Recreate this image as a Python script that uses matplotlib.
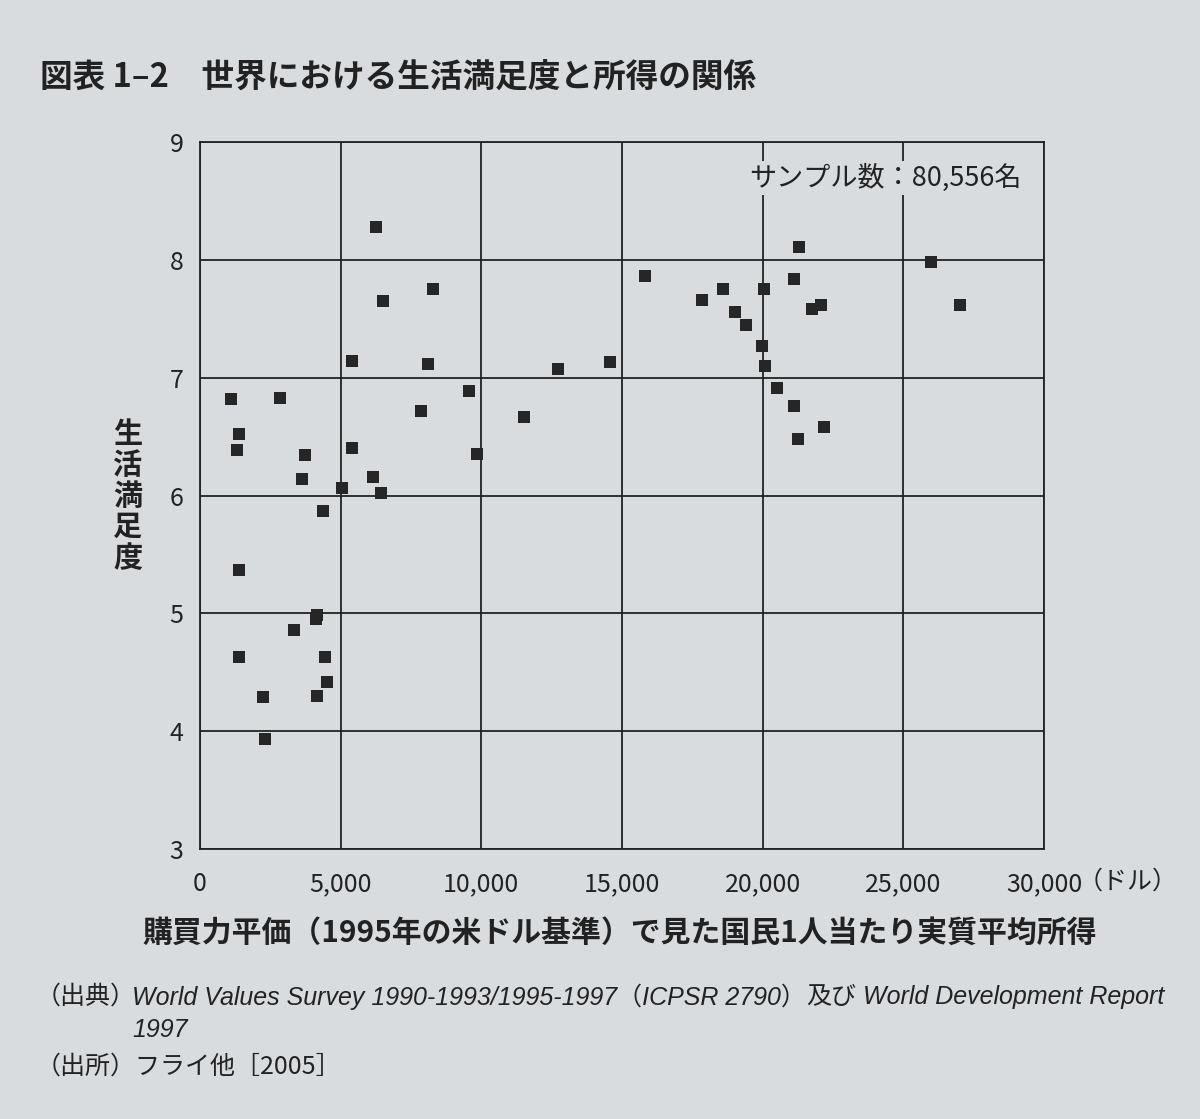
import matplotlib.pyplot as plt
from matplotlib.ticker import FixedLocator

plt.rcParams['font.family'] = ['Noto Sans CJK JP', 'DejaVu Sans']

# income per head (PPP, 1995 US$) and life satisfaction
income = [6250, 8290, 6510, 5400, 8120, 1100, 2840, 9560, 7860, 1400,
          1300, 3740, 5400, 9850, 3620, 6140, 5060, 6430,
          4360, 1370, 4150, 4140, 3330, 1370, 4440, 4510, 4150, 2250, 2310,
          11500, 12740, 14590, 15820, 17840, 18600, 19030, 19410, 20030,
          19980, 20080, 20500,
          21280, 21130, 21750, 22060, 21110, 22170, 21240, 25980, 27020]
satisfaction = [8.28, 7.75, 7.65, 7.14, 7.12, 6.82, 6.83, 6.89, 6.72, 6.52,
                6.39, 6.34, 6.40, 6.35, 6.14, 6.16, 6.06, 6.02,
                5.87, 5.37, 4.99, 4.95, 4.86, 4.63, 4.63, 4.42, 4.30, 4.29, 3.93,
                6.67, 7.07, 7.13, 7.86, 7.66, 7.75, 7.56, 7.45, 7.75,
                7.27, 7.10, 6.91,
                8.11, 7.84, 7.58, 7.62, 6.76, 6.58, 6.48, 7.98, 7.62]

x_ticks = [0, 5000, 10000, 15000, 20000, 25000, 30000]
x_tick_labels = ['0', '5,000', '10,000', '15,000', '20,000', '25,000', '30,000']
y_ticks = [3, 4, 5, 6, 7, 8, 9]

bg = '#d9dcdf'
ink = '#222222'

fig = plt.figure(figsize=(12, 11.19), dpi=100, facecolor=bg)
ax = fig.add_axes([200 / 1200, 1 - 849 / 1119, 844 / 1200, 707 / 1119])
ax.set_facecolor(bg)

ax.scatter(income, satisfaction, marker='s', s=85, color='#262626', linewidths=0, zorder=3)

ax.set_xlim(0, 30000)
ax.set_ylim(3, 9)
ax.xaxis.set_major_locator(FixedLocator(x_ticks))
ax.set_xticklabels(x_tick_labels)
ax.set_yticks(y_ticks)
ax.tick_params(length=0, labelsize=18, colors=ink)
ax.tick_params(axis='x', pad=16)
ax.tick_params(axis='y', pad=12)
ax.grid(True, color=ink, linewidth=1.3)
for s in ax.spines.values():
    s.set_color(ink)
    s.set_linewidth(1.3)

# unit after the last tick label
fig.text(1128 / 1200, 1 - 882 / 1119, '（ドル）', fontsize=18, color=ink,
         ha='center', va='center')

ax.text(0.974, 0.949, 'サンプル数：80,556名', transform=ax.transAxes, fontsize=19.5,
        color=ink, ha='right', va='center', zorder=4,
        bbox=dict(facecolor=bg, edgecolor='none', pad=2))

# title
fig.text(40 / 1200, 1 - 78 / 1119, '図表 1–2　世界における生活満足度と所得の関係',
         fontsize=23.5, fontweight='bold', color=ink, va='center', ha='left')

# y label, written top to bottom
fig.text(128 / 1200, 1 - 496 / 1119, '\n'.join('生活満足度'), fontsize=21,
         fontweight='bold', color=ink, ha='center', va='center', linespacing=1.05)

# x label
fig.text(620 / 1200, 1 - 933 / 1119,
         '購買力平価（1995年の米ドル基準）で見た国民1人当たり実質平均所得',
         fontsize=21.5, fontweight='bold', color=ink, ha='center', va='center')

# sources
src_size = 18
fig.text(36 / 1200, 1 - 997 / 1119, '（出典）', fontsize=src_size, color=ink, va='center')
t1 = fig.text(132 / 1200, 1 - 997 / 1119, 'World Values Survey 1990-1993/1995-1997（ICPSR 2790）',
              fontsize=src_size, color=ink, va='center', style='italic',
              family=['Liberation Sans', 'Noto Sans CJK JP'])
t2 = ax.annotate('及び', xy=(1, 0.5), xycoords=t1, va='center', ha='left',
                 fontsize=src_size, color=ink, annotation_clip=False)
ax.annotate(' World Development Report', xy=(1, 0.5), xycoords=t2, va='center', ha='left',
            fontsize=src_size, color=ink, style='italic', family=['Liberation Sans'],
            annotation_clip=False)
fig.text(132 / 1200, 1 - 1030 / 1119, '1997', fontsize=src_size, color=ink, va='center',
         style='italic', family=['Liberation Sans'])
fig.text(36 / 1200, 1 - 1067 / 1119, '（出所）フライ他［2005］', fontsize=src_size, color=ink,
         va='center')

fig.savefig('out.png', dpi=100, facecolor=bg)
